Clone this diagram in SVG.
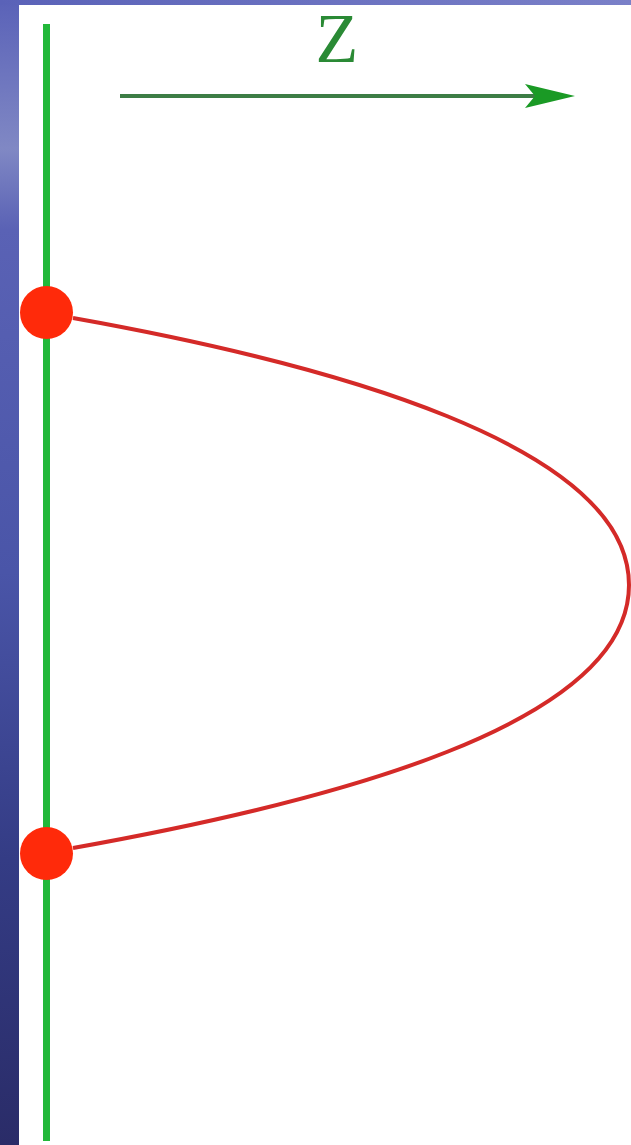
<svg xmlns="http://www.w3.org/2000/svg" width="631" height="1145" viewBox="0 0 631 1145">
  <defs>
    <linearGradient id="bgL" x1="0" y1="0" x2="0" y2="1">
      <stop offset="0" stop-color="#5a62b8"/>
      <stop offset="0.13" stop-color="#8088c4"/>
      <stop offset="0.2" stop-color="#5a62b5"/>
      <stop offset="0.5" stop-color="#4a55a8"/>
      <stop offset="0.75" stop-color="#343c85"/>
      <stop offset="1" stop-color="#2a2c68"/>
    </linearGradient>
    <linearGradient id="bgT" x1="0" y1="0" x2="1" y2="0">
      <stop offset="0" stop-color="#5a62b8"/>
      <stop offset="1" stop-color="#7a80c8"/>
    </linearGradient>
    <marker id="arrow" viewBox="0 0 50 24" refX="30" refY="12" markerWidth="50" markerHeight="24" markerUnits="userSpaceOnUse" orient="auto">
      <path d="M0,0 L50,12 L0,24 L10,12 Z" fill="#1a9a25"/>
    </marker>
    <style>
      .axis { stroke: #22b83a; stroke-width: 7; fill: none; }
      .zarrow { stroke: #3d7d45; stroke-width: 4; fill: none; }
      .curve { stroke: #d42a28; stroke-width: 4; fill: none; }
      .dot { fill: #ff2a0a; }
      .label { font-family: "Liberation Serif", "Times New Roman", serif; font-size: 70px; fill: #2a8a35; }
    </style>
  </defs>
  <rect x="0" y="0" width="631" height="1145" fill="#ffffff"/>
  <rect x="0" y="0" width="19" height="1145" fill="url(#bgL)"/>
  <rect x="0" y="0" width="631" height="5" fill="url(#bgT)"/>

  <g id="connectors">
    <line class="axis" x1="46.5" y1="24" x2="46.5" y2="1141"/>
    <line class="zarrow" x1="120" y1="96" x2="555" y2="96" marker-end="url(#arrow)"/>
    <path class="curve" d="M73,318 C330,364 629,445 629,585 C629,725 330,802 73,848"/>
  </g>

  <g id="label-z">
    <text class="label" x="337" y="62" text-anchor="middle">Z</text>
  </g>

  <g id="node-top">
    <circle class="dot" cx="46.5" cy="312.5" r="26.5"/>
  </g>
  <g id="node-bottom">
    <circle class="dot" cx="46.5" cy="853.5" r="26.5"/>
  </g>
</svg>
